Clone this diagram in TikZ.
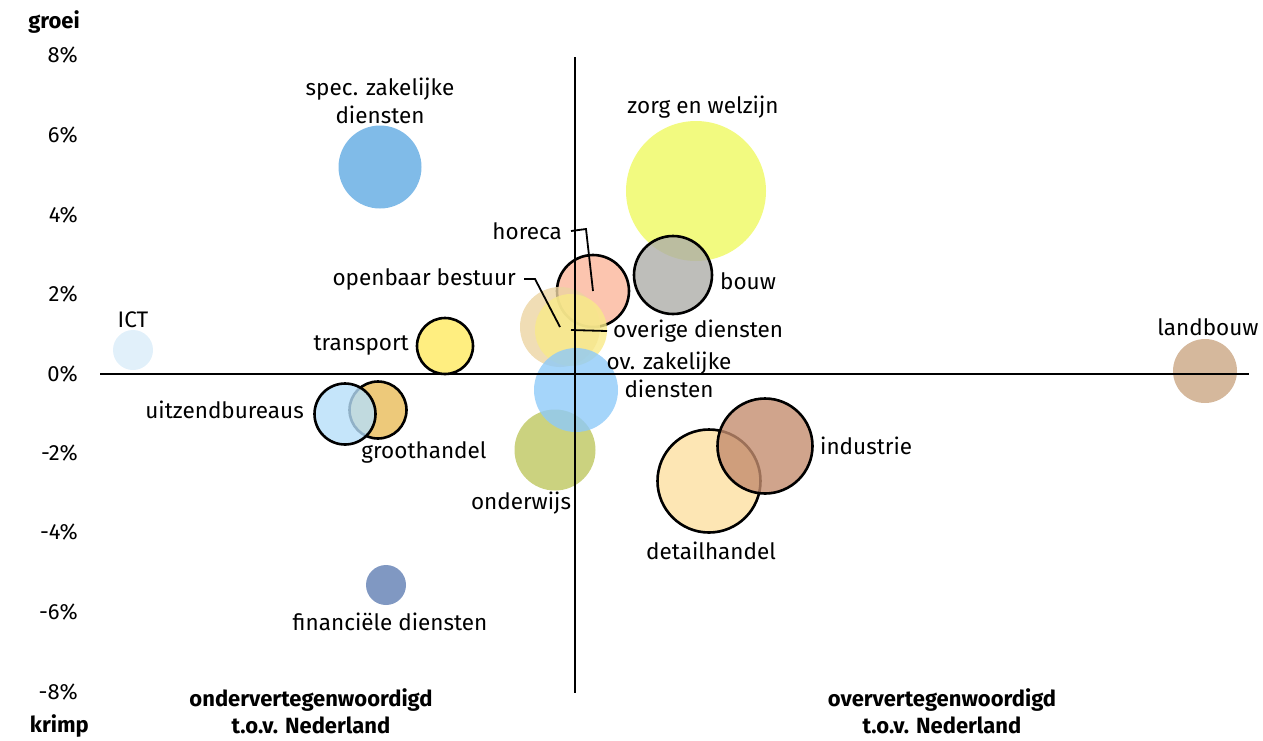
\documentclass[tikz,border=0pt]{standalone}
\usepackage{fontspec}
\setmainfont{Fira Sans}
\begin{document}
\begin{tikzpicture}[x=1pt,y=-1pt,
  lbl/.style={inner sep=0pt,font=\fontsize{22.5}{28.5}\selectfont,align=center},
  blbl/.style={inner sep=0pt,font=\fontsize{22}{27}\selectfont\bfseries,align=center},
  tick/.style={inner sep=0pt,anchor=east,font=\fontsize{22}{24}\selectfont},
  bub/.style={circle,inner sep=0pt,fill opacity=0.8,draw opacity=1},
  ring/.style={bub,draw=black,line width=2.6pt},
  lead/.style={line width=1.8pt,black}]
\useasboundingbox (0,0) rectangle (1263,740);
% colours
\definecolor{cICT}{RGB}{217,236,249}
\definecolor{cSpec}{RGB}{96,170,226}
\definecolor{cTrans}{RGB}{255,234,96}
\definecolor{cUitz}{RGB}{182,222,249}
\definecolor{cGroot}{RGB}{232,187,89}
\definecolor{cFin}{RGB}{96,126,179}
\definecolor{cOnd}{RGB}{190,199,95}
\definecolor{cOvz}{RGB}{142,202,249}
\definecolor{cOpen}{RGB}{236,212,162}
\definecolor{cOver}{RGB}{249,234,136}
\definecolor{cHor}{RGB}{251,182,155}
\definecolor{cBouw}{RGB}{174,174,169}
\definecolor{cZorg}{RGB}{239,249,96}
\definecolor{cInd}{RGB}{196,141,111}
\definecolor{cDet}{RGB}{253,224,161}
\definecolor{cLand}{RGB}{203,166,131}
% bubbles
\node[bub,fill=cZorg,minimum size=140pt] (zorg) at (696,191) {};
\node[ring,fill=cBouw,minimum size=78pt] (bouw) at (673,275) {};
\node[ring,fill=cHor,minimum size=72pt] (horeca) at (593,291) {};
\node[bub,fill=cOpen,minimum size=80pt] (open) at (560,327) {};
\node[bub,fill=cOver,minimum size=72pt] (over) at (571,330) {};
\node[bub,fill=cOnd,minimum size=81pt] (ond) at (555,450) {};
\node[bub,fill=cOvz,minimum size=84pt] (ovz) at (576,390) {};
\node[bub,fill=cICT,minimum size=40pt] (ict) at (133,350) {};
\node[bub,fill=cSpec,minimum size=83pt] (spec) at (380,167) {};
\node[ring,fill=cTrans,minimum size=56pt] (trans) at (445,346) {};
\node[ring,fill=cGroot,minimum size=57pt] (groot) at (378,410) {};
\node[ring,fill=cUitz,minimum size=61pt] (uitz) at (345,414) {};
\node[bub,fill=cFin,minimum size=40pt] (fin) at (386,585) {};
\node[ring,fill=cDet,minimum size=103pt] (det) at (709,481) {};
\node[ring,fill=cInd,minimum size=95pt] (ind) at (765,446) {};
\node[bub,fill=cLand,minimum size=64pt] (land) at (1205,371) {};
% axes
\coordinate (yt) at (575,57);
\coordinate (yb) at (575,693);
\coordinate (xl) at (100,374);
\coordinate (xr) at (1249,374);
\draw[line width=1.3pt] (yt) -- (yb);
\draw[line width=1.3pt] (xl) -- (xr);
% tick labels
\node[tick] (t8) at (78,55) {8\%};
\node[tick] (t6) at (78,135) {6\%};
\node[tick] (t4) at (78,215) {4\%};
\node[tick] (t2) at (78,294) {2\%};
\node[tick] (t0) at (78,374) {0\%};
\node[tick] (tm2) at (78,453) {-2\%};
\node[tick] (tm4) at (78,532) {-4\%};
\node[tick] (tm6) at (78,612) {-6\%};
\node[tick] (tm8) at (78,692) {-8\%};
\node[blbl,anchor=east] (groei) at (80,22) {groei};
\node[blbl,anchor=east] (krimp) at (89,726) {krimp};
\node[blbl] (onder) at (311,711) {ondervertegenwoordigd\\t.o.v. Nederland};
\node[blbl] (boven) at (942,711) {oververtegenwoordigd\\t.o.v. Nederland};
% labels
\node[lbl] (lspec) at (380,101) {spec. zakelijke\\diensten};
\node[lbl] (lzorg) at (703,107) {zorg en welzijn};
\node[lbl,anchor=east] (lhor) at (562,231) {horeca};
\node[lbl,anchor=east] (lopen) at (516,279) {openbaar bestuur};
\node[lbl,anchor=west] (lbouw) at (720,281) {bouw};
\node[lbl,anchor=west] (lover) at (613,331) {overige diensten};
\node[lbl] (lovz) at (669,375) {ov. zakelijke\\diensten};
\node[lbl] (lict) at (133,320) {ICT};
\node[lbl,anchor=east] (ltrans) at (409,345) {transport};
\node[lbl,anchor=east] (luitz) at (304,410) {uitzendbureaus};
\node[lbl] (lgroot) at (424,452) {groothandel};
\node[lbl] (lond) at (521,503) {onderwijs};
\node[lbl] (lfin) at (390,622) {financiële diensten};
\node[lbl,anchor=west] (lind) at (820,446) {industrie};
\node[lbl] (ldet) at (711,551) {detailhandel};
\node[lbl] (lland) at (1208,327) {landbouw};
% leader lines
\coordinate (hk) at (586,229);
\coordinate (ok) at (535,279);
\draw[lead] ([xshift=9pt]lhor.east) -- (hk) -- (horeca.center);
\draw[lead] ([xshift=8pt]lopen.east) -- (ok) -- (open.center);
\draw[lead] (over.center) -- ([xshift=-6pt]lover.west);
\end{tikzpicture}
\end{document}
